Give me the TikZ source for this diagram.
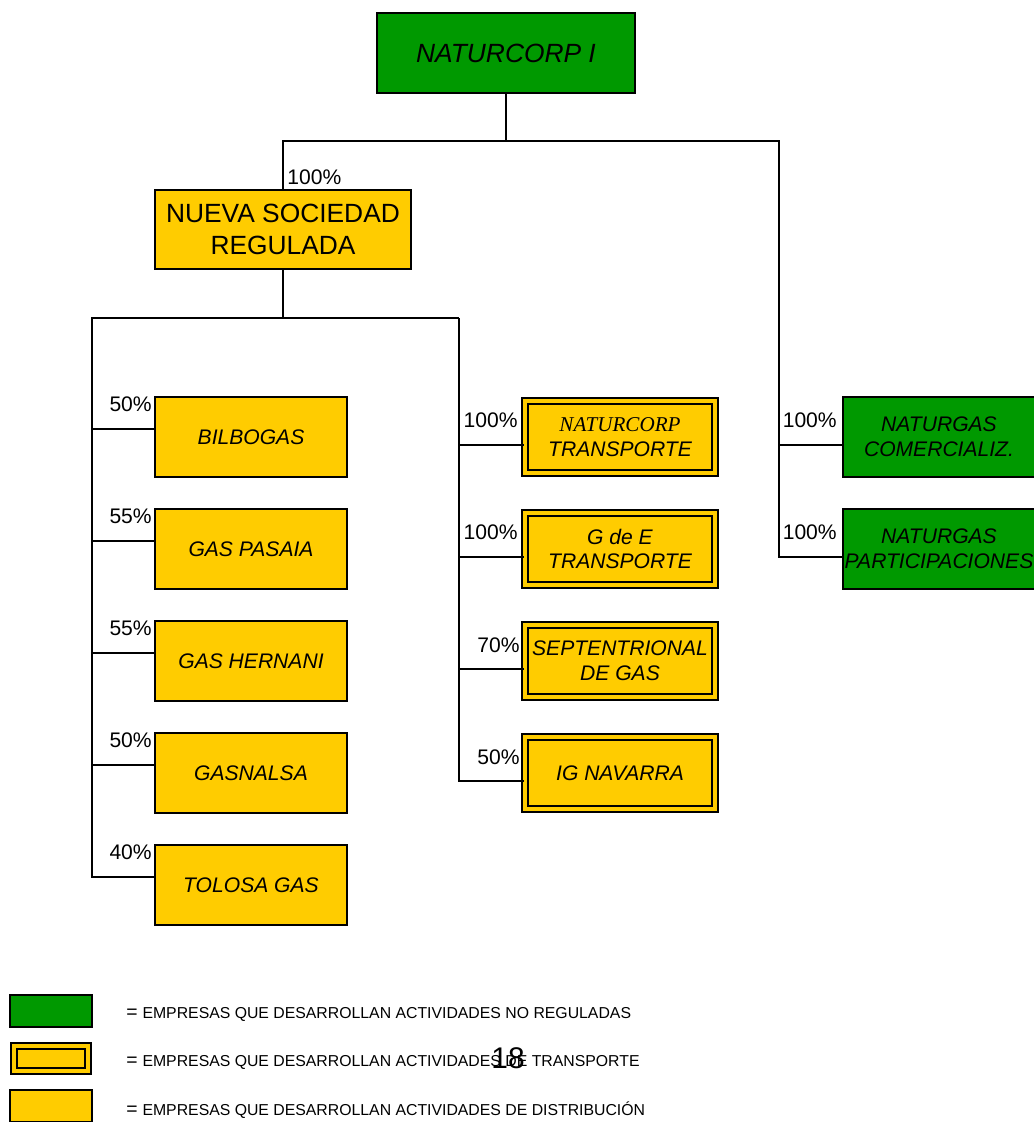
\documentclass[tikz,border=0pt]{standalone}
\usepackage{fontspec}
\setmainfont{Liberation Sans}
\newfontfamily\timesfont{Liberation Serif}
\usetikzlibrary{calc}

\definecolor{nonregreen}{RGB}{0,153,0}
\definecolor{distyellow}{RGB}{255,204,0}

\tikzset{
  box/.style={draw, line width=1.1pt, minimum width=3.84cm, minimum height=1.6cm,
    align=center, inner sep=1pt, font=\fontsize{12}{14}\selectfont\itshape},
  nonreg/.style={box, fill=nonregreen},
  distrib/.style={box, fill=distyellow},
  transp/.style={box, fill=distyellow, line width=1.3pt, double=distyellow,
    double distance=1.8pt, minimum width=3.8cm, minimum height=1.44cm},
  link/.style={line width=1.1pt},
  pct/.style={font=\fontsize{12}{14}\selectfont, inner sep=0pt},
  legtext/.style={anchor=west, inner sep=0pt},
}

\begin{document}
\begin{tikzpicture}[x=0.02cm, y=-0.02cm]
  \useasboundingbox (0,0) rectangle (1034,1122);

  % holding and regulated company
  \node[nonreg, minimum width=5.16cm, font=\fontsize{15}{18}\selectfont\itshape] (top) at (506,53) {NATURCORP I};
  \node[distrib, minimum width=5.12cm, minimum height=1.58cm, font=\fontsize{15}{18}\selectfont] (nsr) at (283,229.5) {NUEVA SOCIEDAD\\REGULADA};

  % distribution
  \node[distrib] (bil) at (251,437) {BILBOGAS};
  \node[distrib] (pas) at (251,549) {GAS PASAIA};
  \node[distrib] (her) at (251,661) {GAS HERNANI};
  \node[distrib] (gnl) at (251,773) {GASNALSA};
  \node[distrib] (tol) at (251,885) {TOLOSA GAS};

  % transport
  \node[transp] (ntr) at (620,437) {{\timesfont NATURCORP}\\TRANSPORTE};
  \node[transp] (gde) at (620,549) {G de E\\TRANSPORTE};
  \node[transp] (sep) at (620,661) {SEPTENTRIONAL\\DE GAS};
  \node[transp] (ign) at (620,773) {IG NAVARRA};

  % non regulated
  \node[nonreg] (com) at (939,437) {NATURGAS\\COMERCIALIZ.};
  \node[nonreg] (par) at (939,549) {NATURGAS\\\makebox[0pt]{PARTICIPACIONES}};

  % connectors
  \coordinate (rbus) at (779,141);
  \coordinate (mbus) at (459,318);
  \coordinate (lbus) at (92,318);
  \foreach \n in {bil,pas,her,gnl,tol}
    \path ([yshift=0.16cm]\n.west) coordinate (\n-in);
  \foreach \n in {ntr,gde,sep,ign,com,par}
    \path ([yshift=-0.16cm]\n.west) coordinate (\n-in);

  \draw[link] (top.south) -- (top.south |- rbus);
  \draw[link] (nsr.north) |- (rbus) |- (par-in);
  \draw[link] (com-in) -- (rbus |- com-in);
  \draw[link] (nsr.south) -- (nsr.south |- mbus);
  \draw[link] (mbus) -- (lbus) |- (tol-in);
  \draw[link] (mbus) |- (ign-in);
  \foreach \n in {bil,pas,her,gnl}
    \draw[link] (\n-in) -- (lbus |- \n-in);
  \foreach \n in {ntr,gde,sep}
    \draw[link] (\n-in) -- (mbus |- \n-in);

  % shares
  \node[pct, anchor=south west] (p-nsr) at ($(nsr.north west)+(133,-4)$) {100\%};
  \node[pct, anchor=east] (p-bil) at ($(bil.north west)+(-2,8)$) {50\%};
  \node[pct, anchor=east] (p-pas) at ($(pas.north west)+(-2,8)$) {55\%};
  \node[pct, anchor=east] (p-her) at ($(her.north west)+(-2,8)$) {55\%};
  \node[pct, anchor=east] (p-gnl) at ($(gnl.north west)+(-2,8)$) {50\%};
  \node[pct, anchor=east] (p-tol) at ($(tol.north west)+(-2,8)$) {40\%};
  \node[pct, anchor=east] (p-ntr) at ($(ntr.north west)+(-6,20)$) {100\%};
  \node[pct, anchor=east] (p-gde) at ($(gde.north west)+(-6,20)$) {100\%};
  \node[pct, anchor=east] (p-sep) at ($(sep.north west)+(-4,21)$) {70\%};
  \node[pct, anchor=east] (p-ign) at ($(ign.north west)+(-4,21)$) {50\%};
  \node[pct, anchor=east] (p-com) at ($(com.north west)+(-5,24)$) {100\%};
  \node[pct, anchor=east] (p-par) at ($(par.north west)+(-5,24)$) {100\%};

  % legend
  \node[nonreg, minimum width=1.64cm, minimum height=0.64cm] (leg-n) at (51,1011) {};
  \node[transp, minimum width=1.48cm, minimum height=0.5cm] (leg-t) at (51,1058.5) {};
  \node[distrib, minimum width=1.64cm, minimum height=0.64cm] (leg-d) at (51,1106) {};
  \node[legtext] (lt-n) at (126,1014) {{\fontsize{11}{13}\selectfont =} {\fontsize{9}{11}\selectfont EMPRESAS QUE DESARROLLAN ACTIVIDADES NO REGULADAS}};
  \node[legtext] (lt-t) at (126,1062) {{\fontsize{11}{13}\selectfont =} {\fontsize{9}{11}\selectfont EMPRESAS QUE DESARROLLAN ACTIVIDADES DE TRANSPORTE}};
  \node[legtext] (lt-d) at (126,1110) {{\fontsize{11}{13}\selectfont =} {\fontsize{9}{11}\selectfont EMPRESAS QUE DESARROLLAN ACTIVIDADES DE DISTRIBUCIÓN}};
  \node[font=\fontsize{17}{20}\selectfont, inner sep=0pt] (pgno) at (508,1058) {18};
\end{tikzpicture}
\end{document}
